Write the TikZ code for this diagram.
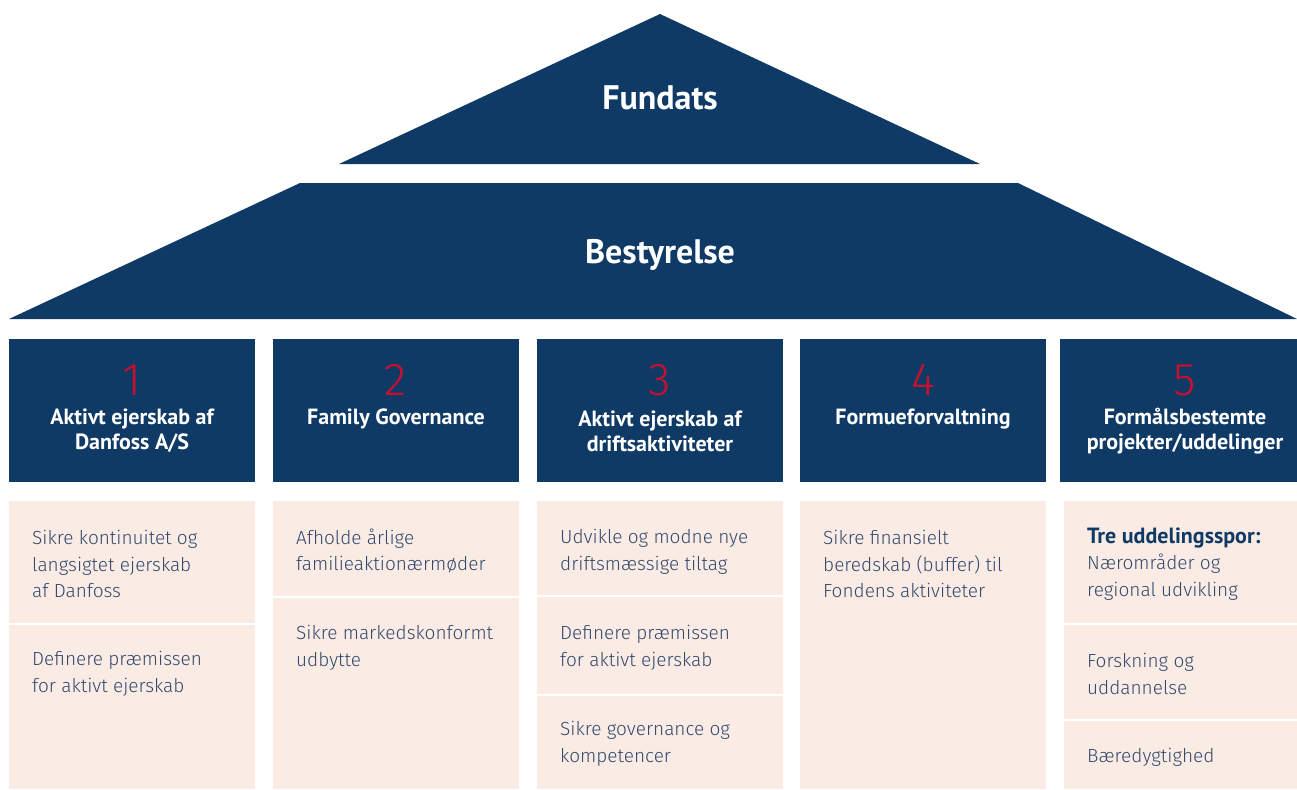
\documentclass[tikz,border=0pt]{standalone}
\usepackage{fontspec}
\setmainfont{Fira Sans}[UprightFont=* Light, BoldFont=* SemiBold]
\newfontfamily\headfont{PT Sans}
\definecolor{navy}{RGB}{15,58,102}
\definecolor{pinkbg}{RGB}{251,235,229}
\definecolor{bodytxt}{RGB}{50,74,108}
\definecolor{numred}{RGB}{200,16,46}
\begin{document}
\begin{tikzpicture}[x=1pt,y=-1pt,
  roof/.style={fill=navy},
  rooftext/.style={text=white,font=\headfont\bfseries\fontsize{34}{38}\selectfont},
  headbox/.style={fill=navy,anchor=north west,minimum width=246pt,minimum height=143pt,inner sep=0pt},
  cellbox/.style={fill=pinkbg,anchor=north west,minimum width=246pt,minimum height=288pt,inner sep=0pt},
  divider/.style={draw=white,line width=2pt},
  numtext/.style={text=numred,font=\fontsize{46}{48}\selectfont},
  headtext/.style={text=white,align=center,font=\headfont\bfseries\fontsize{22}{25}\selectfont,inner sep=0pt},
  celltext/.style={text=bodytxt,align=left,anchor=west,inner sep=0pt,font=\fontsize{19}{26.5}\selectfont}
]
\useasboundingbox (0,0) rectangle (1297,789);
% roofs
\fill[roof] (339,164) -- (660,14) -- (980,164) -- cycle;
\fill[roof] (300,183) -- (1018,183) -- (1297,319) -- (9,319) -- cycle;
\node[rooftext] (fundats) at (660,98) {Fundats};
\node[rooftext] (bestyrelse) at (660,255) {Bestyrelse};
% header boxes
\node[headbox] (h1) at (9,339) {};
\node[headbox] (h2) at (273,339) {};
\node[headbox] (h3) at (537,339) {};
\node[headbox] (h4) at (800,339) {};
\node[headbox,minimum width=237pt] (h5) at (1060,339) {};
% numbers
\node[numtext] (n1) at (132,380) {1};
\node[numtext] (n2) at (396,380) {2};
\node[numtext] (n3) at (660,380) {3};
\node[numtext] (n4) at (923,380) {4};
\node[numtext] (n5) at (1185,380) {5};
% header titles
\node[headtext] (t1) at (132,431) {Aktivt ejerskab af\\Danfoss A/S};
\node[headtext] (t2) at (396,419) {Family Governance};
\node[headtext] (t3) at (660,431) {Aktivt ejerskab af\\driftsaktiviteter};
\node[headtext] (t4) at (923,419) {Formueforvaltning};
\node[headtext] (t5) at (1185,431) {Formålsbestemte\\projekter/uddelinger};
% pink cells
\node[cellbox] (p1) at (9,501) {};
\node[cellbox] (p2) at (273,501) {};
\node[cellbox] (p3) at (537,501) {};
\node[cellbox] (p4) at (800,501) {};
\node[cellbox,minimum width=233pt] (p5) at (1064,501) {};
% dividers
\draw[divider] (p1.west |- 0,624) -- (p1.east |- 0,624);
\draw[divider] (p2.west |- 0,597) -- (p2.east |- 0,597);
\draw[divider] (p3.west |- 0,596) -- (p3.east |- 0,596);
\draw[divider] (p3.west |- 0,695) -- (p3.east |- 0,695);
\draw[divider] (p5.west |- 0,624) -- (p5.east |- 0,624);
\draw[divider] (p5.west |- 0,720) -- (p5.east |- 0,720);
% cell texts
\node[celltext] (a1) at (32,564) {Sikre kontinuitet og\\langsigtet ejerskab\\af Danfoss};
\node[celltext] (a2) at (32,674) {Definere præmissen\\for aktivt ejerskab};
\node[celltext] (b1) at (296,551) {Afholde årlige\\familieaktionærmøder};
\node[celltext] (b2) at (296,648) {Sikre markedskonformt\\udbytte};
\node[celltext] (c1) at (560,552) {Udvikle og modne nye\\driftsmæssige tiltag};
\node[celltext] (c2) at (560,648) {Definere præmissen\\for aktivt ejerskab};
\node[celltext] (c3) at (560,744) {Sikre governance og\\kompetencer};
\node[celltext] (d1) at (823,564) {Sikre finansielt\\beredskab (buffer) til\\Fondens aktiviteter};
\node[celltext] (e1) at (1087,564) {{\headfont\bfseries\fontsize{22}{26.5}\selectfont\color{navy}Tre uddelingsspor:}\\Nærområder og\\regional udvikling};
\node[celltext] (e2) at (1087,674) {Forskning og\\uddannelse};
\node[celltext] (e3) at (1087,757) {Bæredygtighed};
\end{tikzpicture}
\end{document}
